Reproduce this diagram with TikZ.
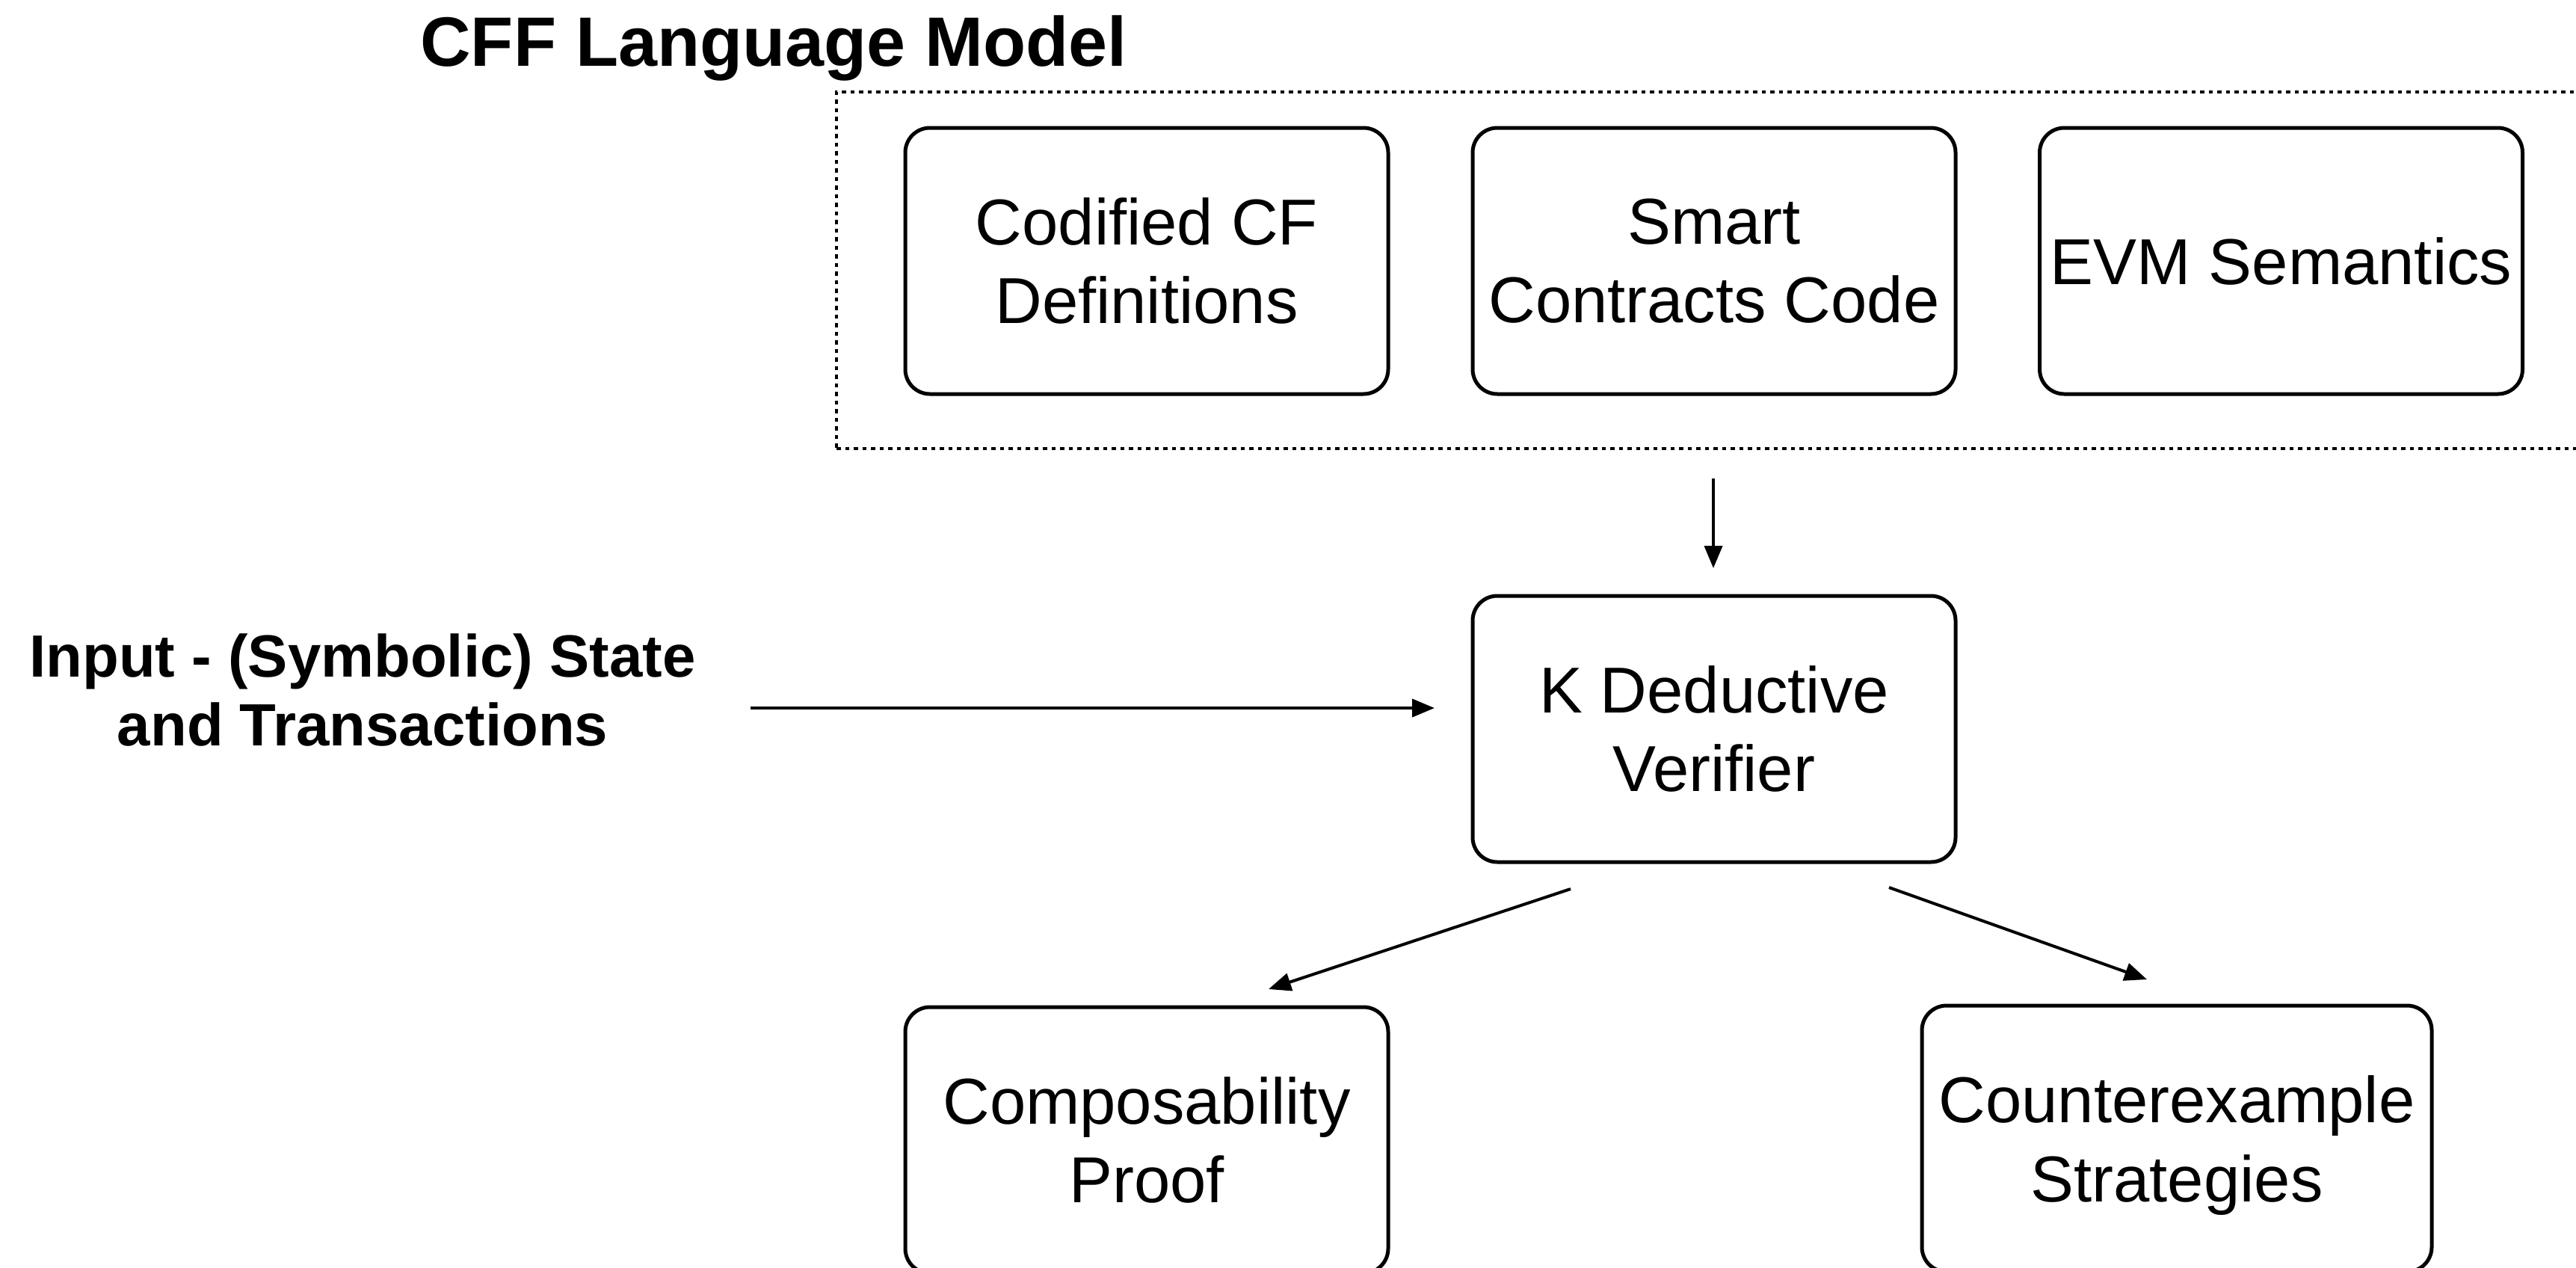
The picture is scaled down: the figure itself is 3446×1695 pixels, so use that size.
\documentclass[tikz,border=0pt]{standalone}
\usepackage{fontspec}
\setmainfont{Liberation Sans}
\usetikzlibrary{arrows.meta}
\begin{document}
\begin{tikzpicture}[x=0.1mm, y=-0.1mm,
  stagebox/.style={draw, line width=0.5mm, rounded corners=3.3mm,
    minimum width=64.6mm, minimum height=35.6mm, inner sep=0pt,
    align=center, font=\fontsize{24.7pt}{29.9pt}\selectfont},
  frame/.style={draw, line width=0.42mm, dash pattern=on 0.55mm off 0.6mm,
    minimum width=236.1mm, minimum height=47.7mm, inner sep=0pt},
  arr/.style={line width=0.4mm, -{Triangle[length=3mm, width=2.4mm]}},
  heading/.style={font=\bfseries\fontsize{26.6pt}{32pt}\selectfont, inner sep=0pt},
  sidelabel/.style={align=center, inner sep=0pt,
    font=\bfseries\fontsize{22.7pt}{26.2pt}\selectfont}]
\useasboundingbox (0,0) rectangle (3446,1695);

% language model group
\node[heading, anchor=base] (title) at (1035,88) {CFF Language Model};
\node[frame] (model) at (2299.5,361.5) {};
\node[stagebox] (cfdef) at (1534,349) {Codified CF\\Definitions};
\node[stagebox] (code)  at (2293,349) {Smart\\Contracts Code};
\node[stagebox] (evm)   at (3051.5,349) {EVM Semantics};

% verifier and its outcomes
\node[stagebox] (kver)  at (2293,975) {K Deductive\\Verifier};
\node[stagebox] (proof) at (1534,1525) {Composability\\Proof};
\node[stagebox, minimum width=68.2mm] (cex) at (2912,1523)
  {Counterexample\\\raisebox{0pt}[\height][0pt]{Strategies}};

% input description
\node[sidelabel] (input) at (485,923) {Input - (Symbolic) State\\and Transactions};

% connector end points
\coordinate (modelout) at (2292,640);
\coordinate (kin)      at (2292,760);
\coordinate (inA)      at (1004,947);
\coordinate (inB)      at (1919,947);
\coordinate (kl)       at (2101,1189);
\coordinate (proofin)  at (1697,1323);
\coordinate (kr)       at (2527,1187);
\coordinate (cexin)    at (2872,1310);

\draw[arr] (modelout) -- (kin);
\draw[arr] (inA) -- (inB);
\draw[arr] (kl) -- (proofin);
\draw[arr] (kr) -- (cexin);
\end{tikzpicture}
\end{document}
